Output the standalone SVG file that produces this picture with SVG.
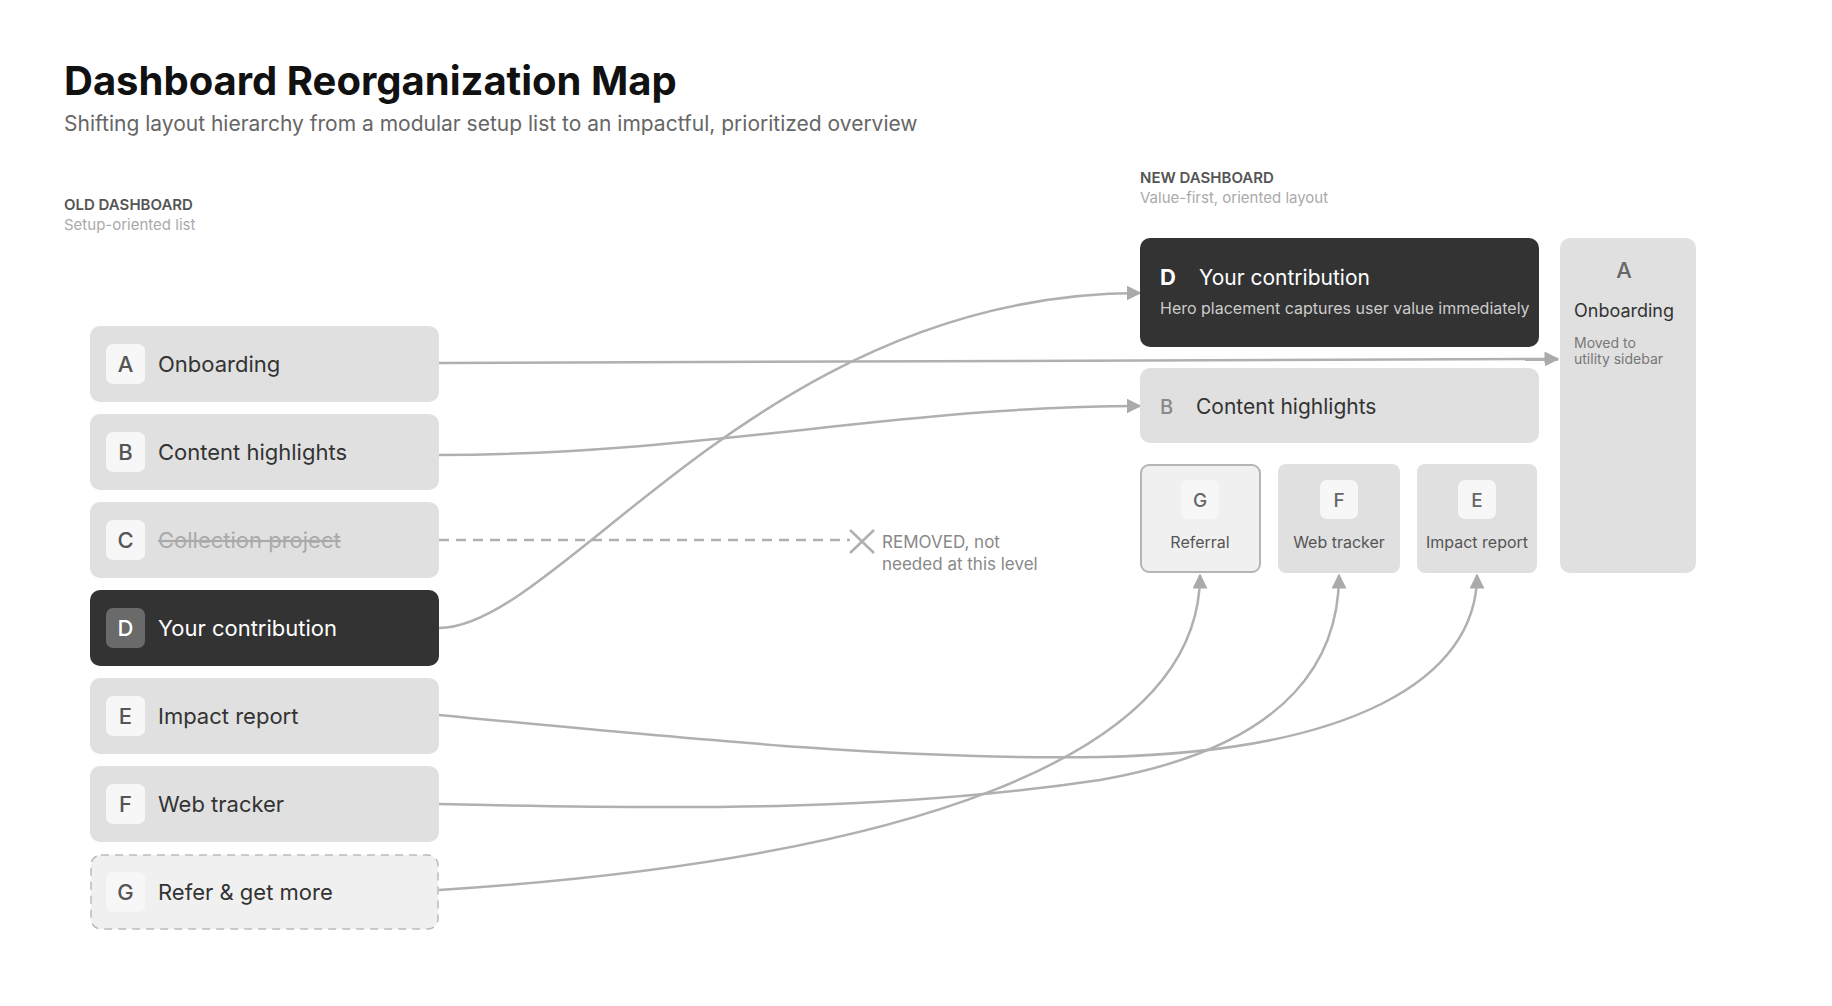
<svg xmlns="http://www.w3.org/2000/svg" width="1832" height="1006" viewBox="0 0 1832 1006">
<style>
text{font-family:Inter,"Noto Sans","Liberation Sans",sans-serif}
.card{fill:#e0e0e0}
.badge{fill:#f7f7f7}
.bl{font-size:22px;fill:#555;text-anchor:middle;font-weight:500}
.lbl{font-size:22px;fill:#333}
.con{fill:none;stroke:#b0b0b0;stroke-width:2.5}
.sm{font-size:16px;fill:#555;text-anchor:middle}
</style>
<defs>
<marker id="ah" viewBox="0 0 10 10" refX="9" refY="5" markerWidth="6" markerHeight="6" markerUnits="strokeWidth" orient="auto">
<path d="M0,0L10,5L0,10z" fill="#aaa"/>
</marker>
</defs>
<rect width="1832" height="1006" fill="#fff"/>
<text x="64" y="95" font-size="40" font-weight="700" fill="#111">Dashboard Reorganization Map</text>
<text x="64" y="131" font-size="21" fill="#666">Shifting layout hierarchy from a modular setup list to an impactful, prioritized overview</text>
<text x="64" y="210" font-size="15" font-weight="600" fill="#555">OLD DASHBOARD</text>
<text x="64" y="230" font-size="15" fill="#aaa">Setup-oriented list</text>
<text x="1140" y="183" font-size="15" font-weight="600" fill="#555">NEW DASHBOARD</text>
<text x="1140" y="203" font-size="15" fill="#aaa">Value-first, oriented layout</text>

<g id="connectors">
<path class="con" d="M439,363 L1558,359" marker-end="url(#ah)"/>
<path class="con" d="M439,455 C700,455 900,406 1140,406" marker-end="url(#ah)"/>
<path class="con" d="M439,540 L850,540" stroke-dasharray="10,7"/>
<path class="con" d="M850,530 L874,553 M874,530 L850,553" stroke-width="3"/>
<path class="con" d="M439,628 C560,628 760,293 1140,293" marker-end="url(#ah)"/>
<path class="con" d="M439,715 C700,740 900,760 1100,757 C1350,752 1477,680 1477,575" marker-end="url(#ah)"/>
<path class="con" d="M439,804 C700,810 900,810 1100,780 C1300,745 1339,650 1339,575" marker-end="url(#ah)"/>
<path class="con" d="M439,890 C900,860 1200,760 1200,575" marker-end="url(#ah)"/>
</g>
<text x="882" y="548" font-size="17" fill="#888">REMOVED, not</text>
<text x="882" y="570" font-size="17" fill="#888">needed at this level</text>

<g id="old-a"><rect class="card" x="90" y="326" width="349" height="76" rx="10"/><rect class="badge" x="106" y="344" width="39" height="40" rx="7"/><text class="bl" x="125.5" y="372">A</text><text class="lbl" x="158" y="372">Onboarding</text></g>
<g id="old-b"><rect class="card" x="90" y="414" width="349" height="76" rx="10"/><rect class="badge" x="106" y="432" width="39" height="40" rx="7"/><text class="bl" x="125.5" y="460">B</text><text class="lbl" x="158" y="460">Content highlights</text></g>
<g id="old-c"><rect class="card" x="90" y="502" width="349" height="76" rx="10"/><rect class="badge" x="106" y="520" width="39" height="40" rx="7"/><text class="bl" x="125.5" y="548">C</text><text class="lbl" x="158" y="548" fill="#aaa" style="fill:#aaa" text-decoration="line-through">Collection project</text></g>
<g id="old-d"><rect x="90" y="590" width="349" height="76" rx="10" fill="#333"/><rect x="106" y="608" width="39" height="40" rx="7" fill="#6a6a6a"/><text class="bl" x="125.5" y="636" style="fill:#fff">D</text><text class="lbl" x="158" y="636" style="fill:#fff">Your contribution</text></g>
<g id="old-e"><rect class="card" x="90" y="678" width="349" height="76" rx="10"/><rect class="badge" x="106" y="696" width="39" height="40" rx="7"/><text class="bl" x="125.5" y="724">E</text><text class="lbl" x="158" y="724">Impact report</text></g>
<g id="old-f"><rect class="card" x="90" y="766" width="349" height="76" rx="10"/><rect class="badge" x="106" y="784" width="39" height="40" rx="7"/><text class="bl" x="125.5" y="812">F</text><text class="lbl" x="158" y="812">Web tracker</text></g>
<g id="old-g"><rect x="91" y="855" width="347" height="74" rx="10" fill="#f0f0f0" stroke="#bbb" stroke-width="1.5" stroke-dasharray="8,6"/><rect class="badge" x="106" y="872" width="39" height="40" rx="7"/><text class="bl" x="125.5" y="900">G</text><text class="lbl" x="158" y="900">Refer &amp; get more</text></g>

<g id="new-d"><rect x="1140" y="238" width="399" height="109" rx="10" fill="#333"/><text x="1160" y="285" font-size="22" font-weight="700" fill="#fff">D</text><text x="1199" y="285" font-size="21" fill="#fff">Your contribution</text><text x="1160" y="314" font-size="16" fill="#ccc">Hero placement captures user value immediately</text></g>
<g id="new-b"><rect class="card" x="1140" y="368" width="399" height="75" rx="10"/><text x="1160" y="414" font-size="20" font-weight="500" fill="#888">B</text><text x="1196" y="414" font-size="21" fill="#333">Content highlights</text></g>
<g id="new-g"><rect x="1141" y="465" width="119" height="107" rx="8" fill="#f0f0f0" stroke="#b5b5b5" stroke-width="2"/><rect class="badge" x="1181" y="480" width="38" height="39" rx="7"/><text x="1200" y="507" font-size="19" fill="#666" text-anchor="middle" font-weight="500">G</text><text class="sm" x="1200" y="548">Referral</text></g>
<g id="new-f"><rect class="card" x="1278" y="464" width="122" height="109" rx="8"/><rect class="badge" x="1320" y="480" width="38" height="39" rx="7"/><text x="1339" y="507" font-size="19" fill="#666" text-anchor="middle" font-weight="500">F</text><text class="sm" x="1339" y="548">Web tracker</text></g>
<g id="new-e"><rect class="card" x="1417" y="464" width="120" height="109" rx="8"/><rect class="badge" x="1458" y="480" width="38" height="39" rx="7"/><text x="1477" y="507" font-size="19" fill="#666" text-anchor="middle" font-weight="500">E</text><text class="sm" x="1477" y="548">Impact report</text></g>
<g id="new-a"><rect class="card" x="1560" y="238" width="136" height="335" rx="10"/><text x="1624" y="278" font-size="22" fill="#666" text-anchor="middle" font-weight="500">A</text><text x="1574" y="317" font-size="18" fill="#333">Onboarding</text><text x="1574" y="348" font-size="14" fill="#777">Moved to</text><text x="1574" y="364" font-size="14" fill="#777">utility sidebar</text></g>
</svg>
